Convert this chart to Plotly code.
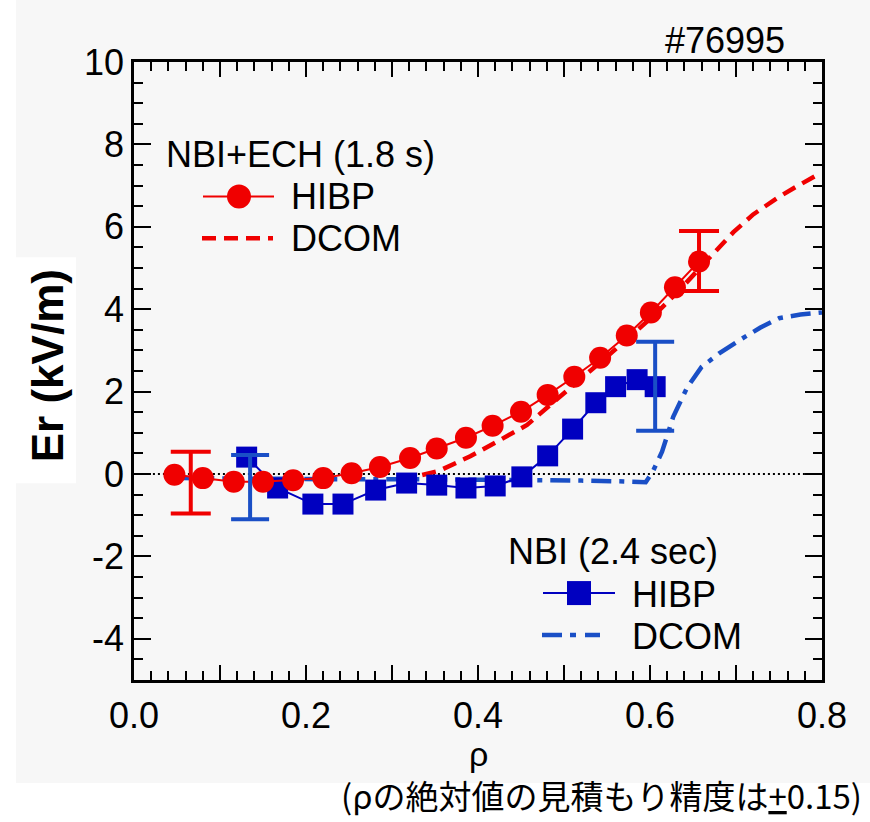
import plotly.graph_objects as go

# ---------------- data ----------------
red_hibp_rho = [0.047, 0.080, 0.116, 0.150, 0.185, 0.220, 0.253, 0.286, 0.321, 0.352,
                0.386, 0.417, 0.450, 0.481, 0.512, 0.542, 0.573, 0.601, 0.629, 0.657]
red_hibp_er = [-0.02, -0.10, -0.19, -0.19, -0.15, -0.10, 0.02, 0.17, 0.39, 0.62,
               0.88, 1.17, 1.51, 1.92, 2.36, 2.82, 3.36, 3.92, 4.53, 5.16]

red_dcom_rho = [0.31, 0.33, 0.355, 0.375, 0.391, 0.426, 0.457, 0.487, 0.519, 0.545,
                0.573, 0.608, 0.635, 0.662, 0.697, 0.72, 0.748, 0.769, 0.792, 0.8]
red_dcom_er = [-0.12, -0.05, 0.08, 0.27, 0.43, 0.83, 1.19, 1.73, 2.29, 2.77,
               3.26, 3.92, 4.48, 5.09, 5.87, 6.30, 6.70, 6.96, 7.23, 7.27]

blue_hibp_rho = [0.131, 0.167, 0.208, 0.243, 0.281, 0.317, 0.352, 0.386, 0.420, 0.451,
                 0.481, 0.510, 0.537, 0.560, 0.585, 0.606]
blue_hibp_er = [0.41, -0.34, -0.73, -0.73, -0.39, -0.22, -0.27, -0.34, -0.29, -0.07,
                0.44, 1.09, 1.73, 2.12, 2.29, 2.12]

blue_dcom_rho = [0.055, 0.15, 0.25, 0.35, 0.45, 0.52, 0.57, 0.595, 0.603, 0.614, 0.627,
                 0.643, 0.66, 0.68, 0.705, 0.728, 0.75, 0.775, 0.8]
blue_dcom_er = [-0.10, -0.12, -0.13, -0.13, -0.14, -0.16, -0.18, -0.20, 0.05, 0.54, 1.39,
                2.09, 2.60, 2.92, 3.26, 3.55, 3.78, 3.87, 3.92]

# representative error bars
red_err_rho = [0.066, 0.657]
red_err_center = [-0.21, 5.17]
red_err_half = [0.75, 0.73]
blue_err_rho = [0.135, 0.606]
blue_err_center = [-0.32, 2.13]
blue_err_half = [0.78, 1.08]

zero_line_rho = [0.022, 0.8]

x_tickvals = [0.0, 0.1, 0.2, 0.3, 0.4, 0.5, 0.6, 0.7, 0.8]
x_ticktext = ["0.0", "", "0.2", "", "0.4", "", "0.6", "", "0.8"]
y_tickvals = [-4, -2, 0, 2, 4, 6, 8, 10]
y_ticktext = ["-4", "-2", "0", "2", "4", "6", "8", "10"]

shot_label = "#76995"
group1_title = "NBI+ECH (1.8 s)"
group2_title = "NBI (2.4 sec)"
legend_labels = ["HIBP", "DCOM"]
x_title = "ρ"
y_title = "<b>Er (kV/m)</b>"
note = "(ρの絶対値の見積もり精度は<u>+</u>0.15)"

# ---------------- style ----------------
RED = "#f00000"
NAVY = "#0000c0"
BLUE = "#1a4fc6"
GRAY = "#f7f7f7"
FONT = "Liberation Sans, Arial, sans-serif"
FS = 36

W, H = 870, 822
L, R, T, B = 134, 48, 61.5, 142
PW, PH = W - L - R, H - T - B


def px(xp):
    return (xp - L) / PW


def py(yp):
    return (H - B - yp) / PH


fig = go.Figure()

fig.add_trace(go.Scatter(x=blue_dcom_rho, y=blue_dcom_er, mode="lines",
                         line=dict(color=BLUE, width=4.5, dash="20px,8px,5px,8px"),
                         showlegend=False))
fig.add_trace(go.Scatter(x=red_dcom_rho, y=red_dcom_er, mode="lines",
                         line=dict(color=RED, width=4.5, dash="14px,8px"),
                         showlegend=False))
fig.add_trace(go.Scatter(x=blue_hibp_rho, y=blue_hibp_er, mode="lines+markers",
                         line=dict(color=NAVY, width=2),
                         marker=dict(symbol="square", size=21, color=NAVY),
                         showlegend=False))
fig.add_trace(go.Scatter(x=red_hibp_rho, y=red_hibp_er, mode="lines+markers",
                         line=dict(color=RED, width=2),
                         marker=dict(symbol="circle", size=22, color=RED),
                         showlegend=False))
# error bars drawn on the mirror (top/right) axes, which share the same ranges
fig.add_trace(go.Scatter(x=blue_err_rho, y=blue_err_center, mode="markers",
                         xaxis="x2", yaxis="y2",
                         marker=dict(size=1, color=BLUE),
                         error_y=dict(type="data", array=blue_err_half, visible=True,
                                      color=BLUE, thickness=4, width=19),
                         showlegend=False))
fig.add_trace(go.Scatter(x=red_err_rho, y=red_err_center, mode="markers",
                         xaxis="x2", yaxis="y2",
                         marker=dict(size=1, color=RED),
                         error_y=dict(type="data", array=red_err_half, visible=True,
                                      color=RED, thickness=4, width=20),
                         showlegend=False))

shapes = [
    dict(type="rect", xref="paper", yref="paper", x0=px(16), x1=px(W + 5),
         y0=py(783), y1=py(-5), fillcolor=GRAY, line=dict(width=0), layer="below"),
    dict(type="rect", xref="paper", yref="paper", x0=px(-5), x1=px(76),
         y0=py(483), y1=py(257), fillcolor="white", line=dict(width=0), layer="below"),
    dict(type="line", xref="x", yref="y", x0=zero_line_rho[0], x1=zero_line_rho[1],
         y0=0, y1=0, line=dict(color="black", width=2, dash="2px,3px"), layer="below"),
    # legend 1
    dict(type="line", xref="paper", yref="paper", x0=px(203), x1=px(274),
         y0=py(196), y1=py(196), line=dict(color=RED, width=2)),
    dict(type="circle", xref="paper", yref="paper", xsizemode="pixel", ysizemode="pixel",
         xanchor=px(239), yanchor=py(196), x0=-12, x1=12, y0=-12, y1=12,
         fillcolor=RED, line=dict(width=0)),
    dict(type="line", xref="paper", yref="paper", x0=px(202), x1=px(273),
         y0=py(238), y1=py(238), line=dict(color=RED, width=4.5, dash="14px,8px")),
    # legend 2
    dict(type="line", xref="paper", yref="paper", x0=px(543), x1=px(615),
         y0=py(593), y1=py(593), line=dict(color=NAVY, width=2)),
    dict(type="rect", xref="paper", yref="paper", xsizemode="pixel", ysizemode="pixel",
         xanchor=px(579), yanchor=py(593), x0=-12, x1=12, y0=-12, y1=12,
         fillcolor=NAVY, line=dict(width=0)),
    dict(type="line", xref="paper", yref="paper", x0=px(542), x1=px(600),
         y0=py(635), y1=py(635), line=dict(color=BLUE, width=4.5, dash="20px,8px,6px,9px")),
]


def ann(text, x, y, xanchor="left", yanchor="middle", size=FS, family=FONT, angle=0):
    return dict(text=text, x=x, y=y, xref="paper", yref="paper", xanchor=xanchor,
                yanchor=yanchor, showarrow=False, textangle=angle,
                font=dict(family=family, size=size, color="black"))


annotations = [
    ann(shot_label, px(663), py(40)),
    ann(group1_title, px(164), py(154)),
    ann(legend_labels[0], px(289), py(196)),
    ann(legend_labels[1], px(289), py(238)),
    ann(group2_title, px(506), py(551)),
    ann(legend_labels[0], px(630), py(594)),
    ann(legend_labels[1], px(630), py(636)),
    ann(x_title, px(478), py(754), xanchor="center", size=34),
    ann(y_title, px(47), py(366), xanchor="center", size=44, angle=-90),
    ann(note, px(864), py(821), xanchor="right", yanchor="bottom", size=33,
        family="Noto Sans CJK JP, Liberation Sans, sans-serif"),
]

tf = dict(family=FONT, size=FS, color="black")
axis_common = dict(showgrid=False, zeroline=False, showline=True, linecolor="black",
                   linewidth=2.5, ticks="inside", tickcolor="black", tickwidth=2)
x_minor = dict(dtick=0.02, tick0=0, ticks="inside", ticklen=9, tickwidth=2,
               tickcolor="black")
y_minor = dict(dtick=0.5, tick0=0, ticks="inside", ticklen=9, tickwidth=2,
               tickcolor="black")

fig.update_layout(
    width=W, height=H,
    margin=dict(l=L, r=R, t=T, b=B, pad=0),
    paper_bgcolor="white", plot_bgcolor=GRAY,
    showlegend=False,
    shapes=shapes, annotations=annotations,
    xaxis=dict(range=[0, 0.8], tickvals=x_tickvals, ticktext=x_ticktext, ticklen=15,
               minor=x_minor, tickfont=tf, ticklabelstandoff=2, anchor="y",
               **axis_common),
    xaxis2=dict(range=[0, 0.8], tickvals=x_tickvals, ticklen=15, overlaying="x",
                side="top", anchor="y2", showticklabels=False, minor=x_minor,
                **axis_common),
    yaxis=dict(range=[-5, 10], tickvals=y_tickvals, ticktext=y_ticktext, ticklen=17,
               minor=y_minor, tickfont=tf, ticklabelstandoff=0, anchor="x",
               **axis_common),
    yaxis2=dict(range=[-5, 10], tickvals=y_tickvals, ticklen=17, overlaying="y",
                side="right", anchor="x2", showticklabels=False, minor=y_minor,
                **axis_common),
)

fig.write_html("out.html")
